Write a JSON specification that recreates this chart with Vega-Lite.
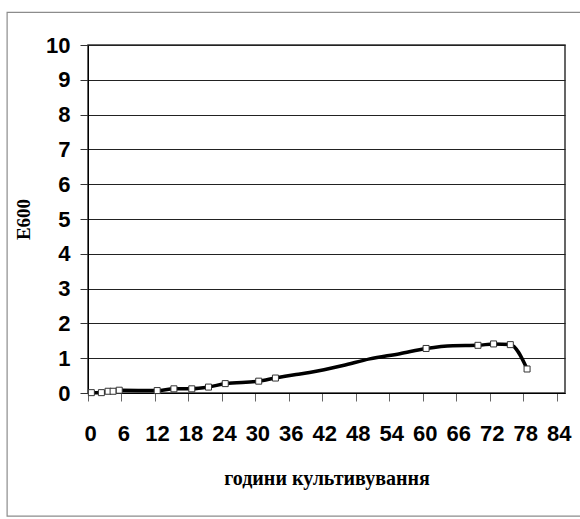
{
  "$schema": "https://vega.github.io/schema/vega-lite/v6.json",
  "width": 477,
  "height": 348,
  "autosize": "none",
  "padding": {"left": 88, "top": 45, "right": 15, "bottom": 126},
  "background": "white",
  "config": {
    "view": {"stroke": "#333333", "strokeWidth": 1.5},
    "axis": {"labelFont": "Liberation Sans", "labelFontWeight": "bold", "labelColor": "black", "titleFont": "Liberation Serif", "titleFontWeight": "bold", "titleColor": "black", "labelOverlap": false}
  },
  "datasets": {
    "markers": [
      {"h": 0.6, "e": 0.01}, {"h": 2.4, "e": 0.01}, {"h": 3.6, "e": 0.05}, {"h": 4.5, "e": 0.05},
      {"h": 5.6, "e": 0.08}, {"h": 12.4, "e": 0.07}, {"h": 15.4, "e": 0.12}, {"h": 18.6, "e": 0.12},
      {"h": 21.6, "e": 0.17}, {"h": 24.6, "e": 0.27}, {"h": 30.6, "e": 0.34}, {"h": 33.6, "e": 0.43},
      {"h": 60.6, "e": 1.28}, {"h": 69.9, "e": 1.37}, {"h": 72.7, "e": 1.41}, {"h": 75.7, "e": 1.39},
      {"h": 78.7, "e": 0.69}
    ],
    "curve": [
      {"h": 0.6, "e": 0.01}, {"h": 2.4, "e": 0.01}, {"h": 3.6, "e": 0.05}, {"h": 4.5, "e": 0.05},
      {"h": 5.6, "e": 0.08}, {"h": 12.4, "e": 0.07}, {"h": 15.4, "e": 0.12}, {"h": 18.6, "e": 0.12},
      {"h": 21.6, "e": 0.17}, {"h": 24.6, "e": 0.27}, {"h": 30.6, "e": 0.34}, {"h": 33.6, "e": 0.43},
      {"h": 37.3, "e": 0.53}, {"h": 39.7, "e": 0.59}, {"h": 45.7, "e": 0.79}, {"h": 50.5, "e": 0.98},
      {"h": 55.9, "e": 1.13}, {"h": 60.6, "e": 1.28}, {"h": 65.4, "e": 1.36}, {"h": 69.9, "e": 1.37},
      {"h": 72.7, "e": 1.41}, {"h": 75.7, "e": 1.39}, {"h": 78.7, "e": 0.69}
    ],
    "frame": [{"x1": -14.5, "x2": 92, "y1": -3.54, "y2": 10.94}]
  },
  "layer": [
    {
      "data": {"name": "curve"},
      "mark": {"type": "line", "color": "black", "strokeWidth": 3.5, "interpolate": "monotone"},
      "encoding": {
        "x": {
          "field": "h", "type": "quantitative",
          "scale": {"domain": [0, 85.5], "nice": false, "zero": false},
          "axis": {
            "values": [0, 6, 12, 18, 24, 30, 36, 42, 48, 54, 60, 66, 72, 78, 84],
            "tickCount": 30,
            "format": "d",
            "title": "години культивування",
            "titleFontSize": 20,
            "titlePadding": 24,
            "labelFontSize": 22,
            "labelPadding": 22,
            "labelOffset": 2,
            "labelOverlap": false,
            "tickSize": 8,
            "tickColor": "#666666",
            "domainColor": "black",
            "grid": false,
            "labelFlush": false
          }
        },
        "y": {
          "field": "e", "type": "quantitative",
          "scale": {"domain": [0, 10], "nice": false},
          "axis": {
            "values": [0, 1, 2, 3, 4, 5, 6, 7, 8, 9, 10],
            "tickCount": 20,
            "format": "d",
            "title": "E600",
            "titleFontSize": 19,
            "titlePadding": 12,
            "labelFontSize": 22,
            "labelPadding": 10,
            "labelOverlap": false,
            "tickSize": 8,
            "tickColor": "#333333",
            "domainColor": "black",
            "grid": true,
            "gridColor": "#222222",
            "gridOpacity": 1,
            "labelFlush": false
          }
        }
      }
    },
    {
      "data": {"name": "frame"},
      "mark": {"type": "rect", "fill": null, "stroke": "#8c8c8c", "strokeWidth": 1.2, "clip": false},
      "encoding": {
        "x": {"field": "x1", "type": "quantitative"},
        "x2": {"field": "x2"},
        "y": {"field": "y1", "type": "quantitative"},
        "y2": {"field": "y2"}
      }
    },
    {
      "data": {"name": "markers"},
      "mark": {"type": "point", "shape": "square", "size": 36, "filled": true, "fill": "white", "stroke": "#333333", "strokeWidth": 1, "opacity": 1},
      "encoding": {
        "x": {"field": "h", "type": "quantitative"},
        "y": {"field": "e", "type": "quantitative"}
      }
    }
  ]
}
